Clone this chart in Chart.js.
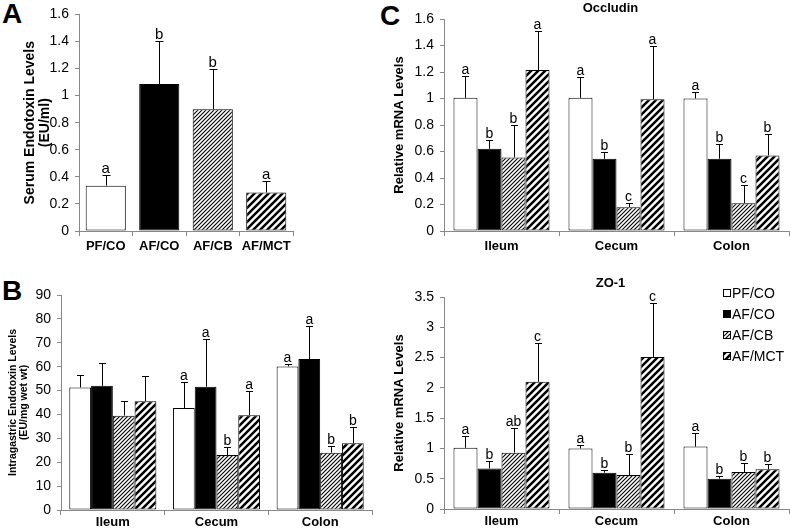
<!DOCTYPE html>
<html><head><meta charset="utf-8">
<script src="https://cdn.jsdelivr.net/npm/chart.js@4"></script>
<style>
body{margin:0;background:#fff;width:790px;height:530px;overflow:hidden;position:relative;font-family:"Liberation Sans",Arial,sans-serif}
canvas{position:absolute;left:0;top:0}
.pl{position:absolute;font-weight:bold;font-size:28px;line-height:28px;color:#000}
</style></head>
<body>
<div class="pl" style="left:2px;top:0px">A</div>
<div class="pl" style="left:2px;top:277px">B</div>
<div class="pl" style="left:380px;top:2px">C</div>
<canvas id="cA" width="790" height="530"></canvas>
<canvas id="cB" width="790" height="530"></canvas>
<canvas id="cOcc" width="790" height="530"></canvas>
<canvas id="cZO" width="790" height="530"></canvas>
<script>
// ---------- data ----------
const groups = ['PF/CO','AF/CO','AF/CB','AF/MCT'];
const segments = ['Ileum','Cecum','Colon'];

// Panel A: serum endotoxin (EU/ml)
const serumMean = [0.335, 1.085, 0.90, 0.285];
const serumSD   = [0.08, 0.32, 0.30, 0.085];
const serumSig  = ['a','b','b','a'];

// Panel B: intragastric endotoxin (EU/mg wet wt), per group over segments
const igPF    = [51.3, 42.7, 60.1], igPFsd    = [5.2, 11.0, 1.2],  igPFsig    = ['','a','a'];
const igAFCO  = [52.0, 51.6, 63.2], igAFCOsd  = [9.6, 20.0, 13.8], igAFCOsig  = ['','a','a'];
const igAFCB  = [39.5, 23.0, 24.0], igAFCBsd  = [6.2, 3.5, 2.6],   igAFCBsig  = ['','b','b'];
const igAFMCT = [45.5, 39.7, 27.9], igAFMCTsd = [10.5, 10.3, 6.7], igAFMCTsig = ['','a','b'];

// Panel C: Occludin relative mRNA
const occPF    = [1.005, 1.005, 1.0],  occPFsd    = [0.165, 0.155, 0.05], occPFsig    = ['a','a','a'];
const occAFCO  = [0.62, 0.545, 0.545], occAFCOsd  = [0.065, 0.055, 0.11], occAFCOsig  = ['b','b','b'];
const occAFCB  = [0.555, 0.18, 0.21],  occAFCBsd  = [0.245, 0.03, 0.14],  occAFCBsig  = ['b','c','c'];
const occAFMCT = [1.215, 0.995, 0.57], occAFMCTsd = [0.295, 0.405, 0.16], occAFMCTsig = ['a','a','b'];

// Panel C: ZO-1 relative mRNA
const zoPF    = [1.01, 1.0, 1.03],   zoPFsd    = [0.195, 0.05, 0.23],  zoPFsig    = ['a','a','a'];
const zoAFCO  = [0.67, 0.6, 0.5],    zoAFCOsd  = [0.13, 0.05, 0.045],  zoAFCOsig  = ['b','b','b'];
const zoAFCB  = [0.93, 0.56, 0.61],  zoAFCBsd  = [0.40, 0.35, 0.15],   zoAFCBsig  = ['ab','b','b'];
const zoAFMCT = [2.1, 2.51, 0.655],  zoAFMCTsd = [0.645, 0.89, 0.095], zoAFMCTsig = ['c','c','b'];

// ---------- styles ----------
Chart.defaults.font.family = '"Liberation Sans", Arial, sans-serif';
Chart.defaults.color = '#000';

function makePattern(size, lw){
  const c = document.createElement('canvas'); c.width = c.height = size;
  const g = c.getContext('2d');
  g.fillStyle = '#fff'; g.fillRect(0,0,size,size);
  g.strokeStyle = '#000'; g.lineWidth = lw; g.beginPath();
  for (const k of [-size, 0, size]) { g.moveTo(-2 + k, size + 2); g.lineTo(size + 2 + k, -2); }
  g.stroke();
  return document.createElement('canvas').getContext('2d').createPattern(c, 'repeat');
}
const patCB = makePattern(4, 1.1);
const patMCT = makePattern(7, 2.5);
const fills = ['#ffffff', '#000000', patCB, patMCT];

function errPlugin(errs, sigs, cap, sigSize){
  return {
    id: 'errbars',
    afterDatasetsDraw(chart){
      const ctx = chart.ctx, y = chart.scales.y;
      chart.data.datasets.forEach((ds, di) => {
        const meta = chart.getDatasetMeta(di);
        meta.data.forEach((bar, i) => {
          const v = ds.data[i], e = errs[di][i];
          const yt = Math.round(y.getPixelForValue(v + e)) + 0.5;
          const x = Math.round(bar.x) + 0.5;
          ctx.save();
          ctx.strokeStyle = '#000'; ctx.lineWidth = 1;
          ctx.beginPath();
          ctx.moveTo(x, bar.y); ctx.lineTo(x, yt);
          ctx.moveTo(x - cap, yt); ctx.lineTo(x + cap, yt);
          ctx.stroke();
          const s = sigs[di][i];
          if (s) {
            ctx.fillStyle = '#000';
            ctx.font = sigSize + 'px "Liberation Sans", Arial, sans-serif';
            ctx.textAlign = 'center'; ctx.textBaseline = 'alphabetic';
            ctx.fillText(s, bar.x, yt - 3);
          }
          ctx.restore();
        });
      });
    }
  };
}
function titlePlugin(text, ty){
  return {
    id: 'ptitle',
    afterDraw(chart){
      const ctx = chart.ctx, a = chart.chartArea;
      ctx.save();
      ctx.fillStyle = '#000';
      ctx.font = 'bold 13px "Liberation Sans", Arial, sans-serif';
      ctx.textAlign = 'center'; ctx.textBaseline = 'middle';
      ctx.fillText(text, (a.left + a.right) / 2 - 6, ty);
      ctx.restore();
    }
  };
}
const legendPlugin = {
  id: 'lg',
  afterDraw(chart){
    const ctx = chart.ctx;
    const ys = [293, 314, 335, 356];
    ctx.save();
    groups.forEach((g, i) => {
      ctx.fillStyle = fills[i];
      ctx.fillRect(723, ys[i] - 4, 8, 8);
      ctx.strokeStyle = '#000'; ctx.lineWidth = 1;
      ctx.strokeRect(723.5, ys[i] - 3.5, 7, 7);
      ctx.fillStyle = '#000';
      ctx.font = '14px "Liberation Sans", Arial, sans-serif';
      ctx.textAlign = 'left'; ctx.textBaseline = 'middle';
      ctx.fillText(g, 732, ys[i] + 1);
    });
    ctx.restore();
  }
};
const fmt = v => String(Number(v.toFixed(2)));

function build(id, o){
  return new Chart(document.getElementById(id), {
    type: 'bar',
    data: { labels: o.labels, datasets: o.datasets },
    options: {
      responsive: false, animation: false, devicePixelRatio: 1,
      layout: { padding: o.pad },
      plugins: { legend: { display: false }, tooltip: { enabled: false } },
      datasets: { bar: { barPercentage: o.barPct, categoryPercentage: o.catPct, borderColor: '#000', borderWidth: 1, borderSkipped: false } },
      scales: {
        x: {
          grid: { display: true, drawOnChartArea: false, drawTicks: true, tickLength: 5, color: '#888', offset: true },
          border: { display: true, color: '#888', width: 1 },
          ticks: { font: { size: 13, weight: 'bold' }, color: '#000', padding: o.xPad, maxRotation: 0, autoSkip: false },
          afterFit: s => { s.height = o.xH; }
        },
        y: {
          min: 0, max: o.yMax,
          ticks: { stepSize: o.yStep, font: { size: 14 }, color: '#000', padding: 6, callback: v => fmt(v) },
          grid: { drawOnChartArea: false, drawTicks: true, tickLength: 4, color: '#888' },
          border: { display: true, color: '#888', width: 1 },
          title: { display: true, text: o.yTitle, color: '#000', font: { size: o.yTitleSize, weight: 'bold', lineHeight: 1.1 }, padding: { top: o.yTitlePad, bottom: 0 } },
          afterFit: s => { s.width = o.yW; }
        }
      }
    },
    plugins: [errPlugin(o.errs, o.sigs, o.cap, o.sigSize || 14)].concat(o.extra || [])
  });
}

// Panel A
build('cA', {
  labels: groups,
  datasets: [{ data: serumMean, backgroundColor: fills }],
  errs: [serumSD], sigs: [serumSig], cap: 4, sigSize: 15,
  yMax: 1.6, yStep: 0.2,
  yTitle: ['Serum Endotoxin Levels', '(EU/ml)'], yTitleSize: 14, yTitlePad: 2,
  yW: 59, xH: 30, xPad: 3,
  pad: { left: 20, top: 12.6, right: 497, bottom: 269 },
  barPct: 0.75, catPct: 1
});

// Panel B
build('cB', {
  labels: segments,
  datasets: [
    { data: igPF, backgroundColor: fills[0] },
    { data: igAFCO, backgroundColor: fills[1] },
    { data: igAFCB, backgroundColor: fills[2] },
    { data: igAFMCT, backgroundColor: fills[3] }
  ],
  errs: [igPFsd, igAFCOsd, igAFCBsd, igAFMCTsd],
  sigs: [igPFsig, igAFCOsig, igAFCBsig, igAFMCTsig], cap: 3.5,
  yMax: 90, yStep: 10,
  yTitle: ['Intragastric Endotoxin Levels', '(EU/mg wet wt)'], yTitleSize: 10.5, yTitlePad: 1,
  yW: 55, xH: 20, xPad: 0,
  pad: { left: 6, top: 295, right: 418, bottom: 0 },
  barPct: 1, catPct: 0.84
});

// Panel C - Occludin
build('cOcc', {
  labels: segments,
  datasets: [
    { data: occPF, backgroundColor: fills[0] },
    { data: occAFCO, backgroundColor: fills[1] },
    { data: occAFCB, backgroundColor: fills[2] },
    { data: occAFMCT, backgroundColor: fills[3] }
  ],
  errs: [occPFsd, occAFCOsd, occAFCBsd, occAFMCTsd],
  sigs: [occPFsig, occAFCOsig, occAFCBsig, occAFMCTsig], cap: 3.5,
  yMax: 1.6, yStep: 0.2,
  yTitle: 'Relative mRNA Levels', yTitleSize: 13, yTitlePad: 0,
  yW: 52, xH: 30, xPad: 3,
  pad: { left: 392, top: 19, right: 1, bottom: 269 },
  barPct: 1, catPct: 0.835,
  extra: [titlePlugin('Occludin', 8)]
});

// Panel C - ZO-1
build('cZO', {
  labels: segments,
  datasets: [
    { data: zoPF, backgroundColor: fills[0] },
    { data: zoAFCO, backgroundColor: fills[1] },
    { data: zoAFCB, backgroundColor: fills[2] },
    { data: zoAFMCT, backgroundColor: fills[3] }
  ],
  errs: [zoPFsd, zoAFCOsd, zoAFCBsd, zoAFMCTsd],
  sigs: [zoPFsig, zoAFCOsig, zoAFCBsig, zoAFMCTsig], cap: 3.5,
  yMax: 3.5, yStep: 0.5,
  yTitle: 'Relative mRNA Levels', yTitleSize: 13, yTitlePad: 0,
  yW: 52, xH: 20, xPad: 0,
  pad: { left: 392, top: 297, right: 1, bottom: 1 },
  barPct: 1, catPct: 0.835,
  extra: [titlePlugin('ZO-1', 283), legendPlugin]
});
</script>
</body></html>
